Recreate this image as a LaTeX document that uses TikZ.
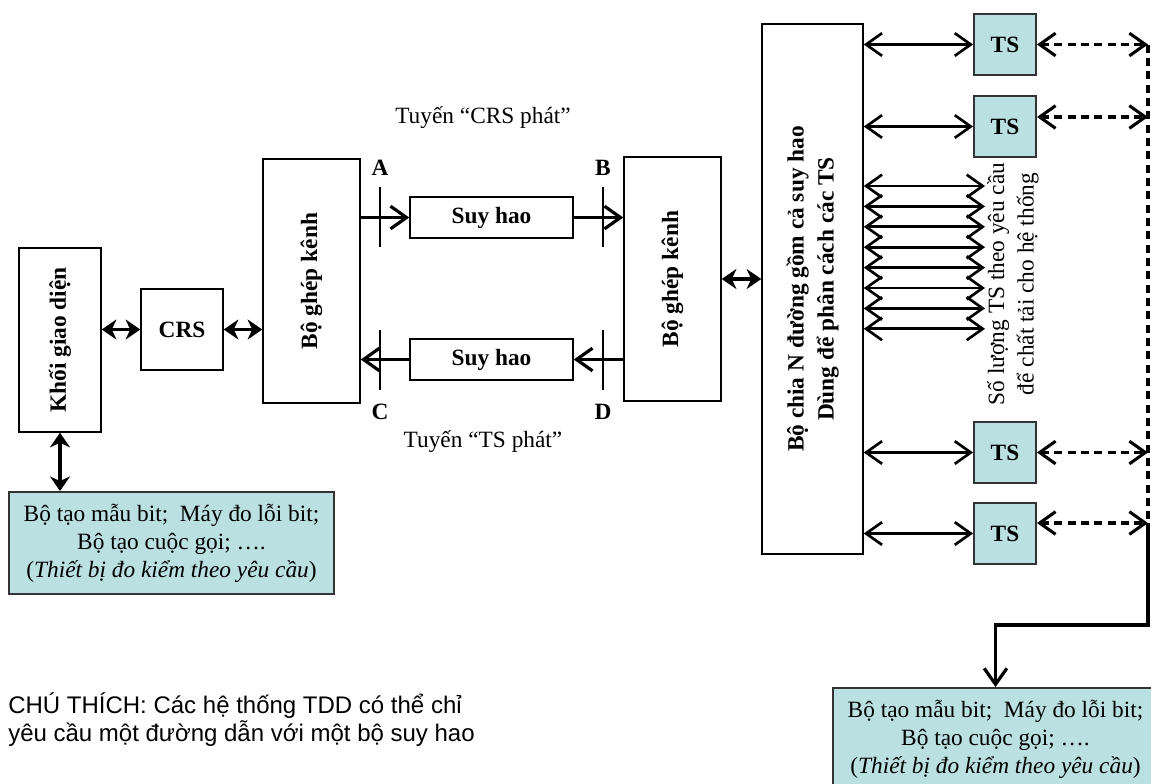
\documentclass[tikz,border=0pt]{standalone}
\usepackage{fontspec}
\setmainfont{Liberation Serif}
\newfontfamily\notefont{Liberation Sans}
\usetikzlibrary{arrows.meta}
\definecolor{tsfill}{RGB}{186,224,226}

\begin{document}
\begin{tikzpicture}[x=0.75pt,y=-0.75pt,
    font=\fontsize{17.5}{21}\selectfont,
    box/.style={draw,line width=1.1pt,inner sep=0pt,align=center},
    tsbox/.style={box,draw=black!80,line width=1.4pt,fill=tsfill,minimum width=46.5pt,minimum height=45.75pt,font=\fontsize{17.5}{21}\selectfont\bfseries},
    genbox/.style={box,draw=black!80,line width=1.4pt,fill=tsfill,minimum width=243.75pt,minimum height=76.5pt},
    lbl/.style={font=\fontsize{17.5}{21}\selectfont\bfseries},
    fat/.style={{Stealth[length=11pt,width=15pt,inset=3.5pt]}-{Stealth[length=11pt,width=15pt,inset=3.5pt]},line width=2.8pt},
    sigline/.style={-{Straight Barb[length=12pt,width=17pt]},line width=2.4pt},
    link/.style={{Straight Barb[length=12pt,width=17pt]}-{Straight Barb[length=12pt,width=17pt]},line width=2pt},
    bus/.style={link,dash pattern=on 6pt off 4pt,line width=2.3pt},
    tickline/.style={line width=1.3pt}]
    \useasboundingbox (0,0) rectangle (1151,783);
    \clip (0,0) rectangle (1151,783);

    % left side
    \node[box,minimum width=61.5pt,minimum height=138pt,font=\fontsize{17.5}{21}\selectfont\bfseries] (khoi) at (60,340) {\rotatebox{90}{Khối giao diện}};
    \node[box,minimum width=61.5pt,minimum height=60.75pt,font=\fontsize{17.5}{21}\selectfont\bfseries] (crs) at (182,329.5) {CRS};
    \node[box,minimum width=72.75pt,minimum height=183pt,font=\fontsize{17.5}{21}\selectfont\bfseries] (mux1) at (311.5,281) {\rotatebox{90}{Bộ ghép kênh}};
    \node[genbox] (gen1) at (171.5,543) {Bộ tạo mẫu bit;~\ Máy đo lỗi bit;\\Bộ tạo cuộc gọi; ….\\(\textit{Thiết bị đo kiểm theo yêu cầu})};

    % attenuator paths
    \node[box,minimum width=122.25pt,minimum height=30.75pt,font=\fontsize{17.5}{21}\selectfont\bfseries] (sh1) at (491.5,217.5) {Suy hao};
    \node[box,minimum width=122.25pt,minimum height=30.75pt,font=\fontsize{17.5}{21}\selectfont\bfseries] (sh2) at (491.5,359.5) {Suy hao};
    \node[box,minimum width=72.75pt,minimum height=183pt,font=\fontsize{17.5}{21}\selectfont\bfseries] (mux2) at (672.5,279) {\rotatebox{90}{Bộ ghép kênh}};
    \node (crsphat) at (483,118) {Tuyến “CRS phát”};
    \node (tsphat) at (483,442) {Tuyến “TS phát”};
    \node[lbl] (ptA) at (380,168) {A};
    \node[lbl] (ptB) at (603,168) {B};
    \node[lbl] (ptC) at (380,412) {C};
    \node[lbl] (ptD) at (603,412) {D};
    \draw[tickline] (380,187) -- (380,247);
    \draw[tickline] (603,187) -- (603,247);
    \draw[tickline] (380,330) -- (380,390);
    \draw[tickline] (603,330) -- (603,390);

    % splitter and TS
    \node[box,minimum width=75.75pt,minimum height=397.5pt,font=\fontsize{17.5}{22.5}\selectfont\bfseries] (chia) at (812.5,289) {\rotatebox{90}{\begin{tabular}{@{}c@{}}Bộ chia N đường gồm cả suy hao\\Dùng để phân cách các TS\end{tabular}}};
    \node[tsbox] (ts1) at (1005,44.5) {TS};
    \node[tsbox] (ts2) at (1005,126.5) {TS};
    \node[tsbox] (ts3) at (1005,452.5) {TS};
    \node[tsbox] (ts4) at (1005,533.5) {TS};
    \node[font=\fontsize{17.5}{22}\selectfont] (soluong) at (1013,284) {\rotatebox{90}{\begin{tabular}{@{}c@{}}Số lượng TS theo yêu cầu\\để chất tải cho hệ thống\end{tabular}}};
    \node[genbox] (gen2) at (995.5,739) {Bộ tạo mẫu bit;~\ Máy đo lỗi bit;\\Bộ tạo cuộc gọi; ….\\(\textit{Thiết bị đo kiểm theo yêu cầu})};

    \node[anchor=west,align=left,inner sep=0pt,font=\notefont\fontsize{18}{21}\selectfont] (note) at (8,720) {CHÚ THÍCH: Các hệ thống TDD có thể chỉ\\yêu cầu một đường dẫn với một bộ suy hao};

    % connectors
    \draw[fat] (crs.west -| khoi.east) -- (crs.west);
    \draw[fat] (crs.east) -- (crs.east -| mux1.west);
    \draw[fat] (khoi.south) -- (khoi.south |- gen1.north);
    \draw[fat] (mux2.east) -- (mux2.east -| chia.west);
    \draw[sigline] (sh1.west -| mux1.east) -- (sh1.west);
    \draw[sigline] (sh1.east) -- (sh1.east -| mux2.west);
    \draw[sigline] (sh2.east -| mux2.west) -- (sh2.east);
    \draw[sigline] (sh2.west) -- (sh2.west -| mux1.east);
    \foreach \t in {ts1,ts2,ts3,ts4}
        \draw[link] (\t.west -| chia.east) -- (\t.west);
    \foreach \i in {0,...,7}
        \coordinate (n\i) at (985,{186+20.4*\i});
    \foreach \i in {0,...,7}
        \draw[link] (n\i -| chia.east) -- (n\i);

    \coordinate (b1) at (1148,44.5);
    \coordinate (b2) at (1148,117);
    \coordinate (b3) at (1148,452.5);
    \coordinate (b4) at (1148,523);
    \coordinate (c1) at (1148,625);
    \draw[line width=2.3pt,dash pattern=on 6pt off 4pt] (b1) -- (b4);
    \draw[bus] (ts1.east) -- (b1);
    \draw[bus] (ts2.east |- b2) -- (b2);
    \draw[bus] (ts3.east) -- (b3);
    \draw[bus] (ts4.east |- b4) -- (b4);
    \draw[sigline] (b4) -- (c1) -| (gen2.north);
\end{tikzpicture}
\end{document}
